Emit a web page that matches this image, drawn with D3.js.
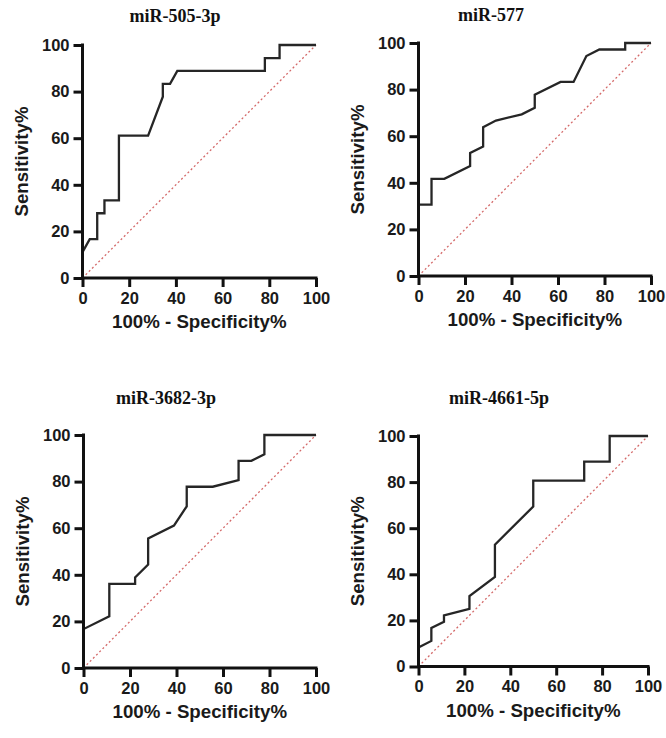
<!DOCTYPE html>
<html>
<head>
<meta charset="utf-8">
<script src="https://cdn.jsdelivr.net/npm/d3@7"></script>
<style>
  body { margin: 0; background: #fff; }
  svg { display: block; }
  .tick text { font-family: "Liberation Sans", Arial, sans-serif; font-weight: bold; font-size: 16.5px; fill: #1a1a1a; }
  .axis path, .axis line { stroke: #111; stroke-width: 3; }
  .title { font-family: "Liberation Serif", "Times New Roman", serif; font-weight: bold; font-size: 18px; fill: #111; }
  .label { font-family: "Liberation Sans", Arial, sans-serif; font-weight: bold; font-size: 18.7px; fill: #1a1a1a; }
</style>
</head>
<body>
<svg id="chart" width="666" height="738"></svg>
<script>
// ROC curves, values (100% - specificity, sensitivity)
var titles = ["miR-505-3p", "miR-577", "miR-3682-3p", "miR-4661-5p"];
var ticks = [0, 20, 40, 60, 80, 100];

var fpr505 = [0, 0, 3.1, 6.3, 6.3, 9.4, 9.4, 15.6, 15.6, 28.1, 34.4, 34.4, 37.5, 40.6, 78.1, 78.1, 84.4, 84.4, 100];
var sens505 = [0, 11.1, 16.7, 16.7, 27.8, 27.8, 33.3, 33.3, 61.1, 61.1, 77.8, 83.3, 83.3, 88.9, 88.9, 94.4, 94.4, 100, 100];

var fpr577 = [0, 0, 5.6, 5.6, 11.1, 22.2, 22.2, 27.8, 27.8, 33.3, 44.4, 50, 50, 61.1, 66.7, 72.2, 77.8, 88.9, 88.9, 100];
var sens577 = [0, 30.6, 30.6, 41.7, 41.7, 47.2, 52.8, 55.6, 63.9, 66.7, 69.4, 72.2, 77.8, 83.3, 83.3, 94.4, 97.2, 97.2, 100, 100];

var fpr3682 = [0, 0, 11.1, 11.1, 22.2, 22.2, 27.8, 27.8, 38.9, 44.4, 44.4, 55.6, 66.7, 66.7, 72.2, 77.8, 77.8, 100];
var sens3682 = [0, 16.7, 22.2, 36.1, 36.1, 38.9, 44.4, 55.6, 61.1, 69.4, 77.8, 77.8, 80.6, 88.9, 88.9, 91.7, 100, 100];

var fpr4661 = [0, 0, 5.6, 5.6, 11.1, 11.1, 22.2, 22.2, 33.3, 33.3, 50, 50, 72.2, 72.2, 83.3, 83.3, 100];
var sens4661 = [0, 8.3, 11.1, 16.7, 19.4, 22.2, 25, 30.6, 38.9, 52.8, 69.4, 80.6, 80.6, 88.9, 88.9, 100, 100];

var curves = [[fpr505, sens505], [fpr577, sens577], [fpr3682, sens3682], [fpr4661, sens4661]];

// where each panel sits on the page
var layout = [
  {x0: 82.5, x1: 316, y0: 278, y1: 45, tx: 175, ty: 22},
  {x0: 418.5, x1: 651, y0: 276, y1: 43, tx: 491, ty: 21},
  {x0: 83.5, x1: 316, y0: 668, y1: 435, tx: 166, ty: 404},
  {x0: 418.5, x1: 648, y0: 666.5, y1: 436, tx: 499, ty: 404}
];

var svg = d3.select("#chart");

layout.forEach(function(p, i) {
  var x = d3.scaleLinear().domain([0, 100]).range([p.x0, p.x1]);
  var y = d3.scaleLinear().domain([0, 100]).range([p.y0, p.y1]);
  var g = svg.append("g");

  // chance line
  g.append("line")
    .attr("x1", x(0)).attr("y1", y(0))
    .attr("x2", x(100)).attr("y2", y(100))
    .attr("stroke", "#d46a6a")
    .attr("stroke-width", 1.3)
    .attr("stroke-dasharray", "2,2.5");

  var pts = curves[i][0].map(function(v, k) { return [v, curves[i][1][k]]; });
  var line = d3.line()
    .x(function(d) { return x(d[0]); })
    .y(function(d) { return y(d[1]); });

  g.append("path")
    .datum(pts)
    .attr("fill", "none")
    .attr("stroke", "#262626")
    .attr("stroke-width", 2.3)
    .attr("stroke-linejoin", "miter")
    .attr("d", line);

  g.append("g")
    .attr("class", "axis")
    .attr("transform", "translate(0," + p.y0 + ")")
    .call(d3.axisBottom(x).tickValues(ticks).tickSize(9).tickSizeOuter(0).tickPadding(5))
    .call(function(a) { a.select(".domain").attr("d", "M" + (p.x0 - 1.5) + ",0H" + (p.x1 + 1.5)); });

  g.append("g")
    .attr("class", "axis")
    .attr("transform", "translate(" + p.x0 + ",0)")
    .call(d3.axisLeft(y).tickValues(ticks).tickSize(9).tickSizeOuter(0).tickPadding(4))
    .call(function(a) { a.select(".domain").attr("d", "M0," + (p.y0 + 1.5) + "V" + (p.y1 - 1.5)); });

  g.append("text")
    .attr("class", "title")
    .attr("x", p.tx)
    .attr("y", p.ty)
    .attr("text-anchor", "middle")
    .text(titles[i]);

  g.append("text")
    .attr("class", "label")
    .attr("x", (p.x0 + p.x1) / 2)
    .attr("y", p.y0 + 50)
    .attr("text-anchor", "middle")
    .text("100% - Specificity%");

  g.append("text")
    .attr("class", "label")
    .attr("transform", "translate(" + (p.x0 - 55) + "," + ((p.y0 + p.y1) / 2) + ") rotate(-90)")
    .attr("text-anchor", "middle")
    .text("Sensitivity%");
});
</script>
</body>
</html>
